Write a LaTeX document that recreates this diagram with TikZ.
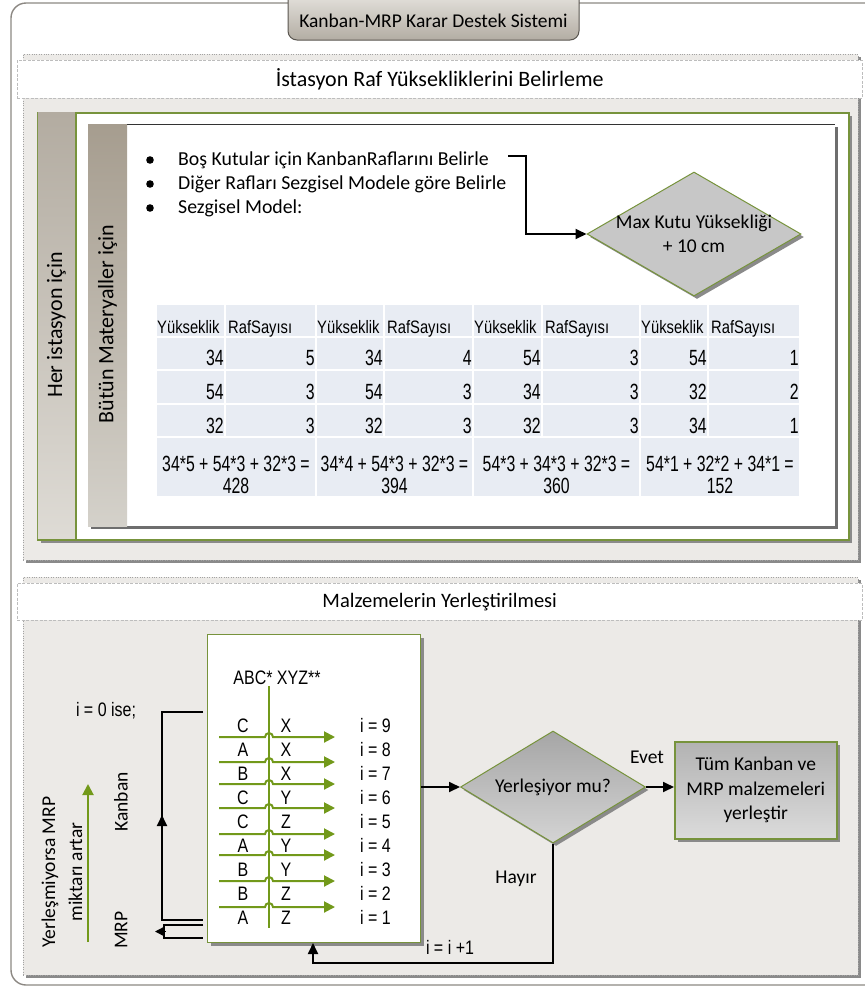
\documentclass[tikz,border=0pt]{standalone}
\usepackage{fontspec}
\setmainfont{Carlito}
\newfontfamily\narrowfont[FakeStretch=0.82]{Liberation Sans}
\newfontfamily\condfont[FakeStretch=0.72]{Liberation Sans}
\usetikzlibrary{shapes.geometric,arrows.meta,shadows,calc}

\definecolor{framegray}{HTML}{8C8883}
\definecolor{secbg}{HTML}{ECEAE7}
\definecolor{dotgray}{HTML}{A3A3A3}
\definecolor{bandgray}{HTML}{BDBDBD}
\definecolor{shadowgray}{HTML}{8A8A8A}
\definecolor{darkshadow}{HTML}{6E6E6E}
\definecolor{boxgreen}{HTML}{77933C}
\definecolor{arrowgreen}{HTML}{72991A}
\definecolor{colAtop}{HTML}{B3ACA1}
\definecolor{colAbot}{HTML}{DEDBD5}
\definecolor{colBtop}{HTML}{A69D8F}
\definecolor{colBbot}{HTML}{D4D1CA}
\definecolor{tabtop}{HTML}{EEECE8}
\definecolor{tabbot}{HTML}{B3ADA3}
\definecolor{tabborder}{HTML}{5A5650}
\definecolor{cellblue}{HTML}{E8ECF3}

\begin{document}
\begin{tikzpicture}[x=1pt,y=-1pt,
  cal/.style={font=\fontsize{19.5}{23.5}\selectfont},
  bul/.style={font=\fontsize{19.8}{24}\selectfont, inner sep=0pt},
  side/.style={font=\fontsize{22}{26}\selectfont},
  nar/.style={font=\narrowfont\fontsize{19.5}{22}\selectfont, inner sep=0pt},
  hdr/.style={font=\narrowfont\fontsize{18}{20}\selectfont, inner sep=0pt},
  num/.style={font=\condfont\fontsize{22}{23}\selectfont, inner sep=0pt},
  secbox/.style={draw=dotgray, dotted, fill=secbg, inner sep=0pt,
    general shadow={fill=shadowgray, shadow xshift=3pt, shadow yshift=-3pt}},
  band/.style={draw=bandgray, dash pattern=on 3pt off 1.5pt, fill=white, inner sep=0pt},
  greenbox/.style={draw=boxgreen, line width=1.5pt, fill=white, inner sep=0pt,
    general shadow={fill=shadowgray, shadow xshift=3pt, shadow yshift=-3pt}},
  innerbox/.style={fill=white, inner sep=0pt,
    general shadow={fill=darkshadow, shadow xshift=3pt, shadow yshift=-3pt}},
  decision/.style={diamond, draw=boxgreen, line width=1pt, inner sep=0pt,
    general shadow={fill=shadowgray, shadow xshift=3pt, shadow yshift=-3pt}},
  bline/.style={line width=1.8pt, black},
  btip/.style={-{Triangle[length=11pt,width=10pt]}},
  garrow/.style={line width=2pt, arrowgreen, -{Triangle[length=11pt,width=11pt]}},
]
\useasboundingbox (0,0) rectangle (865,986);

% outer frame
\draw[framegray, line width=1.4pt, rounded corners=15pt] (880,3) -- (11,3) -- (11,985) -- (880,985);

% title tab
\draw[tabborder, line width=1pt, top color=tabtop, bottom color=tabbot, rounded corners=9pt]
  (288,-15) rectangle (579,40);
\node[cal] (title) at (433.5,21) {Kanban-MRP Karar Destek Sistemi};

% ---------- section 1 ----------
\node[secbox, anchor=north west, minimum width=835pt, minimum height=506pt] (sec1) at (23,54) {};
\node[band, anchor=north west, minimum width=845pt, minimum height=38pt,
  font=\fontsize{22}{26}\selectfont] (band1) at (17,60)
  {İstasyon Raf Yüksekliklerini Belirleme};

% outer green box with its label column
\node[greenbox, anchor=north west, minimum width=811pt, minimum height=427pt] (gbox) at (37,112) {};
\shade[top color=colAtop, bottom color=colAbot] (37.75,112.75) rectangle (76,538.25);
\draw[boxgreen, line width=1.5pt] (76,112) -- (76,539);
\node[side, rotate=90] (lblA) at (56.5,325) {Her istasyon için};

% inner box with its label column
\node[innerbox, anchor=north west, minimum width=747pt, minimum height=402pt] (ibox) at (88,124) {};
\shade[top color=colBtop, bottom color=colBbot] (88,124) rectangle (127,526);
\draw[black!80, line width=1pt] (127,124) -- (835,124);
\node[side, rotate=90] (lblB) at (107.5,324) {Bütün Materyaller için};

% bullet list
\fill (150,160) circle (3.8pt);
\fill (150,184) circle (3.8pt);
\fill (150,208) circle (3.8pt);
\node[bul, anchor=base west] (b1) at (178,165) {Boş Kutular için KanbanRaflarını Belirle};
\node[bul, anchor=base west] (b2) at (178,189) {Diğer Rafları Sezgisel Modele göre Belirle};
\node[bul, anchor=base west] (b3) at (178,213) {Sezgisel Model:};

% height rule
\node[decision, minimum width=214pt, minimum height=124pt, fill=black!22] (maxk) at (694,234) {};
\node[cal, align=center] (maxktext) at (maxk.center) {Max Kutu Yüksekliği\\+ 10 cm};
\coordinate (a0) at (508,156);
\coordinate (a1) at (526,156);
\draw[bline, btip] (a0) -- (a1) |- (maxk.west);

% shelf tables
\foreach \l/\r in {157/224,226/315,317/383,385/472,474/541,543/639,641/707,709/799}{
  \foreach \t/\b in {305/336,338/369,371/403,405/436}{
    \fill[cellblue] (\l,\t) rectangle (\r,\b);
  }
}
\foreach \l/\r in {157/315,317/472,474/639,641/799}{
  \fill[cellblue] (\l,438) rectangle (\r,496);
}
\foreach \x [count=\c] in {157,317,474,641}{
  \node[hdr, anchor=base west] (hy\c) at (\x,333) {Yükseklik};
}
\foreach \x [count=\c] in {228,387,545,711}{
  \node[hdr, anchor=base west] (hr\c) at (\x,333) {RafSayısı};
}
\foreach \yb/\va/\vb/\vc/\vd/\ve/\vf/\vg/\vh [count=\k] in
  {365/34/5/34/4/54/3/54/1, 399/54/3/54/3/34/3/32/2, 433/32/3/32/3/32/3/34/1}{
  \node[num, anchor=base east] (n\k a) at (224,\yb) {\va};
  \node[num, anchor=base east] (n\k b) at (315,\yb) {\vb};
  \node[num, anchor=base east] (n\k c) at (383,\yb) {\vc};
  \node[num, anchor=base east] (n\k d) at (472,\yb) {\vd};
  \node[num, anchor=base east] (n\k e) at (541,\yb) {\ve};
  \node[num, anchor=base east] (n\k f) at (639,\yb) {\vf};
  \node[num, anchor=base east] (n\k g) at (707,\yb) {\vg};
  \node[num, anchor=base east] (n\k h) at (799,\yb) {\vh};
}
\foreach \cx/\eq/\res [count=\c] in
  {236/{34*5 + 54*3 + 32*3 =}/428, 394.5/{34*4 + 54*3 + 32*3 =}/394,
   556.5/{54*3 + 34*3 + 32*3 =}/360, 720/{54*1 + 32*2 + 34*1 =}/152}{
  \node[num, anchor=base] (eq\c) at (\cx,471) {\eq};
  \node[num, anchor=base] (res\c) at (\cx,493) {\res};
}

% ---------- section 2 ----------
\node[secbox, anchor=north west, minimum width=835pt, minimum height=398pt] (sec2) at (23,577) {};
\node[band, anchor=north west, minimum width=845pt, minimum height=37pt,
  font=\fontsize{20.5}{24}\selectfont] (band2) at (17,583)
  {Malzemelerin Yerleştirilmesi};

% placement order box
\node[greenbox, line width=1pt, anchor=north west, minimum width=213pt, minimum height=308pt] (flow) at (207,634) {};
\node[nar, anchor=base] (abc) at (277,684) {ABC* XYZ**};
\coordinate (vtop) at (269,686);
\coordinate (vbot) at (269,928);
\draw[line width=2pt, arrowgreen] (vtop) -- (vbot);

\foreach \p/\q/\n [count=\k] in {C/X/9,A/X/8,B/X/7,C/Y/6,C/Z/5,A/Y/4,B/Y/3,B/Z/2,A/Z/1}{
  \pgfmathsetmacro{\yb}{732+24*(\k-1)}
  \node[nar, anchor=base] (p\k) at (243,\yb) {\p};
  \node[nar, anchor=base] (q\k) at (286,\yb) {\q};
  \node[nar, anchor=base west] (i\k) at (360,\yb) {i = \n};
}
\foreach \y in {737,762,784,808,834,855,881,907}{
  \draw[garrow] (219,\y) -- (265,\y) arc[start angle=180, end angle=0, radius=4pt] -- (335,\y);
}

% Kanban / MRP feedback brackets
\coordinate (k1) at (203,712);
\coordinate (k2) at (162,712);
\coordinate (k3) at (162,920);
\coordinate (k4) at (203,920);
\coordinate (kmid) at (162,815);
\draw[bline] (k1) -- (k2) -- (k3) -- (k4);
\draw[bline, btip] (k3) -- (kmid);
\coordinate (m1) at (203,925);
\coordinate (m2) at (164,925);
\coordinate (m3) at (164,938);
\coordinate (m4) at (203,938);
\coordinate (mtip) at (155,931.5);
\draw[line width=1.5pt] (m1) -- (m2) -- (m3) -- (m4);
\draw[line width=1.5pt, -{Triangle[length=9pt,width=9pt]}] (166,931.5) -- (mtip);

\node[nar, anchor=base] (izero) at (106,716) {i = 0 ise;};
\node[cal, rotate=90] (kanban) at (121,802) {Kanban};
\node[cal, rotate=90] (mrp) at (121,930) {MRP};
\node[cal, rotate=90, align=center, font=\fontsize{19.5}{27}\selectfont] (grow) at (62,872)
  {Yerleşmiyorsa MRP\\miktarı artar};
\coordinate (g0) at (88,942);
\coordinate (g1) at (88,784);
\draw[garrow] (g0) -- (g1);

% decision and result
\node[decision, minimum width=185pt, minimum height=112pt, top color=black!35, bottom color=black!17] (yer) at (553,787) {};
\node[cal] (yertext) at (yer.center) {Yerleşiyor mu?};
\node[draw=boxgreen, line width=1.5pt, top color=black!30, bottom color=black!14,
  general shadow={fill=shadowgray, shadow xshift=3pt, shadow yshift=-3pt},
  minimum width=162pt, minimum height=97pt, inner sep=0pt, anchor=north west] (done) at (674,741) {};
\node[cal, align=center, font=\fontsize{19.5}{24.5}\selectfont] (donetext) at (done.center)
  {Tüm Kanban ve\\MRP malzemeleri\\yerleştir};

\draw[bline, btip] (flow.east |- yer.west) -- (yer.west);
\draw[bline, btip] (yer.east) -- (yer.east -| done.west);
\node[cal] (evet) at (647,757) {Evet};

\coordinate (loop) at (313,963);
\draw[bline, btip] (yer.south) |- (loop) -- (loop |- flow.south);
\node[cal] (hayir) at (516,879) {Hayır};
\node[nar] (inc) at (450,947) {i = i +1};

\end{tikzpicture}
\end{document}
